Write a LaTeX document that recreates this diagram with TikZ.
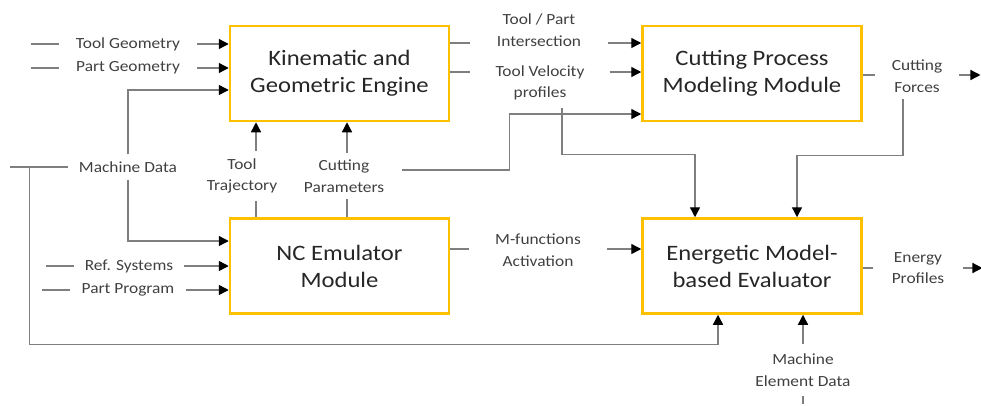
\documentclass[tikz,border=0pt]{standalone}
\usepackage{fontspec}
\setmainfont{Carlito}[FakeStretch=1.12]
\usetikzlibrary{arrows.meta,calc}
\definecolor{boxgold}{HTML}{FFC000}
\definecolor{linegray}{HTML}{7F7F7F}
\definecolor{labeltext}{HTML}{404040}

\begin{document}
\begin{tikzpicture}[x=1pt,y=-1pt,
    module/.style={draw=boxgold, line width=2.5pt, minimum width=219pt, minimum height=95pt,
      align=center, inner sep=0pt, text=black!85, font=\fontsize{22}{27}\selectfont},
    lbl/.style={align=center, inner xsep=11pt, inner ysep=7pt, text=labeltext,
      font=\fontsize{15.5}{21.5}\selectfont},
    wire/.style={draw=linegray, line width=1.4pt},
    feed/.style={wire, -{Triangle[length=10pt,width=10pt,color=black]}}]
\useasboundingbox (0,0) rectangle (981,405);

% the four modules
\node[module] (kin) at (339.5,73.5) {Kinematic and\\Geometric Engine};
\node[module] (cut) at (752,73.5) {Cutting Process\\Modeling Module};
\node[module] (nc) at (339.5,266) {NC Emulator\\Module};
\node[module] (energ) at (752,266) {Energetic Model-\\based Evaluator};

% data labels
\node[lbl, inner xsep=17pt] (tg) at (128,44) {Tool Geometry};
\node[lbl, inner xsep=17pt] (pg) at (128,68) {Part Geometry};
\node[lbl] (md) at (128,167) {Machine Data};
\node[lbl] (rs) at (129,266) {Ref. Systems};
\node[lbl] (pp) at (128,290) {Part Program};
\node[lbl] (tt) at (242,176) {Tool\\Trajectory};
\node[lbl, inner xsep=18pt] (cp) at (344,176) {Cutting\\Parameters};
\node[lbl, inner xsep=27pt] (tpi) at (539,30) {Tool / Part\\Intersection};
\node[lbl, inner xsep=25pt] (tvp) at (540,83) {Tool Velocity\\profiles};
\node[lbl, inner xsep=17pt] (cf) at (917,76) {Cutting\\Forces};
\node[lbl, inner xsep=26pt] (mfa) at (538,250) {M-functions\\Activation};
\node[lbl, inner xsep=19pt] (ep) at (918,268) {Energy\\Profiles};
\node[lbl, inner ysep=10pt] (med) at (803,370) {Machine\\Element Data};

% inputs of the engine
\draw[wire] (tg.west) -- ++(-28,0);
\draw[feed] (tg.east) -- (kin.west |- tg.east);
\draw[wire] (pg.west) -- ++(-28,0);
\draw[feed] (pg.east) -- (kin.west |- pg.east);

% machine data goes to three modules
\draw[wire] (md.west) -- ++(-58,0);
\draw[feed] (md.north) |- ($(kin.west)+(0,16.5)$);
\draw[feed] (md.south) |- ($(nc.west)+(0,-25)$);
\draw[feed] ($(md.west)+(-38,0)$) |- ($(energ.south)+(-34,30)$) -- ($(energ.south)+(-34,0)$);

% inputs of the NC emulator
\draw[wire] (rs.west) -- ++(-28,0);
\draw[feed] (rs.east) -- (nc.west |- rs.east);
\draw[wire] (pp.west) -- ++(-28,0);
\draw[feed] (pp.east) -- (nc.west |- pp.east);

% NC emulator up to the engine
\draw[feed] ([xshift=14pt]tt.north) -- ([xshift=14pt]tt.north |- kin.south);
\draw[wire] ([xshift=14pt]tt.south) -- ([xshift=14pt]tt.south |- nc.north);
\draw[feed] ([xshift=3pt]cp.north) -- ([xshift=3pt]cp.north |- kin.south);
\draw[wire] ([xshift=3pt]cp.south) -- ([xshift=3pt]cp.south |- nc.north);
\draw[feed] ([yshift=6pt]cp.east) -- ++(107,0) |- ($(cut.west)+(0,40.5)$);

% engine to cutting model
\draw[wire] (kin.east |- 0,43) -- (tpi.west |- 0,43);
\draw[feed] (tpi.east |- 0,43) -- (cut.west |- 0,43);
\draw[wire] (kin.east |- 0,72) -- (tvp.west |- 0,72);
\draw[feed] (tvp.east |- 0,72) -- (cut.west |- 0,72);
\draw[feed] ([xshift=22pt]tvp.south) |- ($(energ.north)+(-57,-63)$) -- ($(energ.north)+(-57,0)$);

% cutting forces
\draw[wire] (cut.east |- 0,75) -- (cf.west |- 0,75);
\draw[feed] (cf.east |- 0,75) -- ++(21,0);
\draw[feed] ([xshift=-14pt]cf.south) |- ($(energ.north)+(45,-62)$) -- ($(energ.north)+(45,0)$);

% evaluator
\draw[wire] (nc.east |- 0,249) -- (mfa.west |- 0,249);
\draw[feed] (mfa.east |- 0,249) -- (energ.west |- 0,249);
\draw[wire] (energ.east |- ep) -- (ep.west);
\draw[feed] (ep.east) -- ++(19,0);
\draw[feed] (med.north) -- (med.north |- energ.south);
\draw[wire] (med.south) -- ++(0,8);
\end{tikzpicture}
\end{document}
